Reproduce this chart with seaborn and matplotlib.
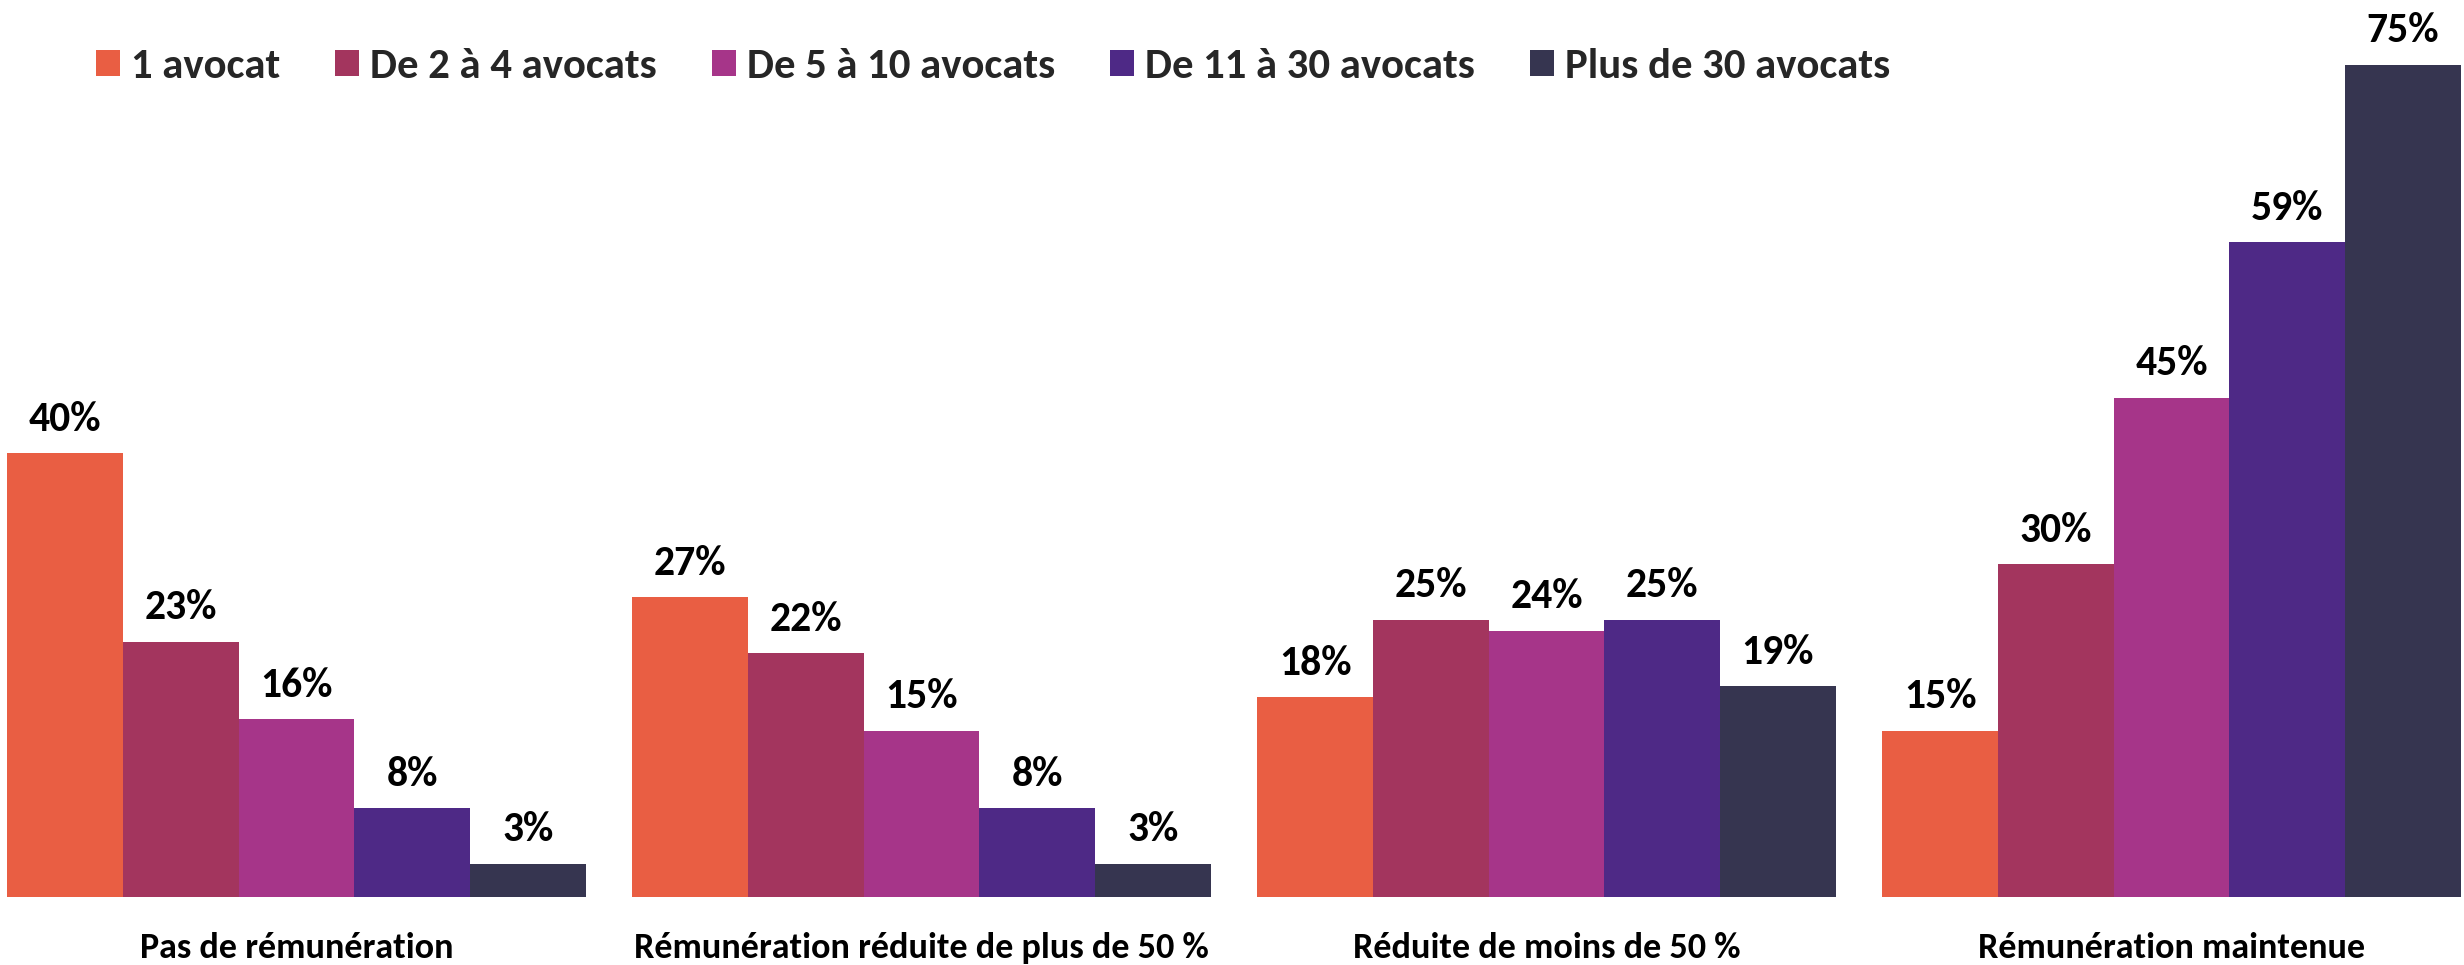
import matplotlib
matplotlib.use("Agg")
import matplotlib.pyplot as plt
import matplotlib.font_manager as fm
import seaborn as sns
import pandas as pd

categories = ["Pas de rémunération", "Rémunération réduite de plus de 50 %",
              "Réduite de moins de 50 %", "Rémunération maintenue"]
series = ["1 avocat", "De 2 à 4 avocats", "De 5 à 10 avocats",
          "De 11 à 30 avocats", "Plus de 30 avocats"]
v_1 = [40, 27, 18, 15]
v_2_4 = [23, 22, 25, 30]
v_5_10 = [16, 15, 24, 45]
v_11_30 = [8, 8, 25, 59]
v_30p = [3, 3, 19, 75]
colors = ["#E95E43", "#A3355E", "#A63589", "#4E2986", "#363550"]

values = [v_1, v_2_4, v_5_10, v_11_30, v_30p]
rows = []
for s, vals in zip(series, values):
    for c, v in zip(categories, vals):
        rows.append({"cat": c, "serie": s, "val": v})
df = pd.DataFrame(rows)

sns.set_theme(style="white")
names = {f.name for f in fm.fontManager.ttflist}
family = "DejaVu Sans"
for cand in ["Carlito", "Lato", "Open Sans", "Liberation Sans"]:
    if cand in names:
        family = cand
        break
plt.rcParams["font.family"] = [family, "DejaVu Sans"]
FS_LAB = 30
FS_TICK = 26
FS_LEG = 30.8

W, H = 2464, 965
fig = plt.figure(figsize=(W / 100, H / 100), dpi=100)
base = 897
ax = fig.add_axes([0, (H - base) / H, 1, base / H])

sns.barplot(data=df, x="cat", y="val", hue="serie", order=categories,
            hue_order=series, palette=colors, width=0.925, gap=0,
            linewidth=0, saturation=1, ax=ax, legend=True)

for cont in ax.containers:
    ax.bar_label(cont, fmt="{:.0f}%", padding=11, fontsize=FS_LAB,
                 fontweight="bold", color="black")

ax.set_ylim(0, base / 11.1)
ax.set_xlim(-296.5 / 625, -296.5 / 625 + W / 625)
ax.set_xlabel("")
ax.set_ylabel("")
ax.set_yticks([])
ax.tick_params(axis="x", length=0, pad=25, labelsize=FS_TICK)
for lab in ax.get_xticklabels():
    lab.set_fontweight("bold")
    lab.set_color("black")
for sp in ax.spines.values():
    sp.set_visible(False)

handles, labels = ax.get_legend_handles_labels()
if ax.legend_ is not None:
    ax.legend_.remove()
em = FS_LEG * 100 / 72
leg = fig.legend(handles, labels, loc="center left",
                 bbox_to_anchor=(96 / W, 1 - 67 / H), ncol=5, frameon=False,
                 borderpad=0, borderaxespad=0,
                 handlelength=24 / em, handleheight=24 / em,
                 handletextpad=11 / em, columnspacing=55 / em,
                 prop={"size": FS_LEG, "weight": "bold",
                       "family": [family, "DejaVu Sans"]})

fig.savefig("out.png", dpi=100)
